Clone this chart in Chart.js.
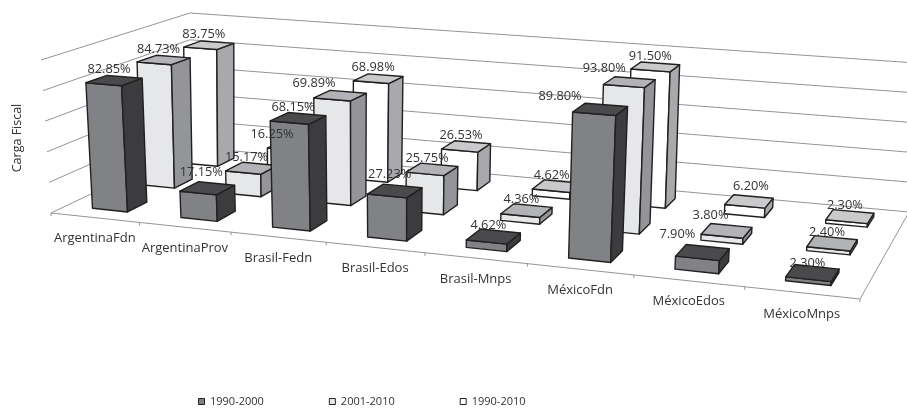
<!DOCTYPE html>
<html><head><meta charset="utf-8">
<style>html,body{margin:0;padding:0;background:#fff}canvas{display:block;filter:blur(0.4px)}</style>
<script src="https://cdn.jsdelivr.net/npm/chart.js@4"></script>
</head><body><canvas id="c" width="907" height="409"></canvas>
<script>
const categories = ['ArgentinaFdn','ArgentinaProv','Brasil-Fedn','Brasil-Edos','Brasil-Mnps','MéxicoFdn','MéxicoEdos','MéxicoMnps'];
const seriesNames = ['1990-2000','2001-2010','1990-2010'];
const values1 = [82.85,17.15,68.15,27.23,4.62,89.80,7.90,2.30];
const values2 = [84.73,15.17,69.89,25.75,4.36,93.80,3.80,2.40];
const values3 = [83.75,16.25,68.98,26.53,4.62,91.50,6.20,2.30];
const axisTitle = 'Carga Fiscal';

const F = 'Open Sans';
const faces = [
  {front:'#808285',side:'#3c3c3e',top:'#4a4a4c'},
  {front:'#e6e7e8',side:'#939598',top:'#b1b3b6'},
  {front:'#ffffff',side:'#a7a9ac',top:'#c9cacc'}
];
function quad(p){
  const [a,b,c,d]=p, dx1=b[0]-c[0],dx2=d[0]-c[0],sx=a[0]-b[0]+c[0]-d[0],
        dy1=b[1]-c[1],dy2=d[1]-c[1],sy=a[1]-b[1]+c[1]-d[1],
        den=dx1*dy2-dx2*dy1, g=(sx*dy2-dx2*sy)/den, h=(dx1*sy-sx*dy1)/den,
        A=b[0]-a[0]+g*b[0],B=d[0]-a[0]+h*d[0],D=b[1]-a[1]+g*b[1],E=d[1]-a[1]+h*d[1];
  return (u,z)=>{const w=g*u+h*z+1;return [(A*u+B*z+a[0])/w,(D*u+E*z+a[1])/w];};
}
const floorH = quad([[51,213],[860,299],[909,212],[190,147]]);
const topH   = quad([[41,60],[874,127],[916,63],[190,13]]);
function P(u,z,v){const f=floorH(u,z),t=topH(u,z);return [f[0]+(t[0]-f[0])*v,f[1]+(t[1]-f[1])*v];}

function poly(ctx,pts,fill,stroke){ctx.beginPath();pts.forEach((p,i)=>i?ctx.lineTo(p[0],p[1]):ctx.moveTo(p[0],p[1]));ctx.closePath();
  if(fill){ctx.fillStyle=fill;ctx.fill();} if(stroke){ctx.strokeStyle=stroke;ctx.stroke();}}
function seg(ctx,a,b){ctx.beginPath();ctx.moveTo(a[0],a[1]);ctx.lineTo(b[0],b[1]);ctx.stroke();}

const labelNudge = {'0,1':[-1,-5],'0,3':[0,-6],'0,5':[-35,-2],'0,6':[-20,-7],'0,7':[0,1],'1,2':[-21,-1],'1,5':[-20,-3],'1,6':[-11,-4],'2,1':[-15,0],'2,6':[7,-4]};

const plot3d = {
  id:'plot3d',
  beforeDatasetDraw(){return false;},
  afterLayout(chart){chart.legend.top+=8;chart.legend.bottom+=8;chart.legend.left-=2;},
  afterDraw(chart){
    const ctx=chart.ctx, a=chart.chartArea, x=chart.scales.x, y=chart.scales.y;
    const nv=v=>(a.bottom-y.getPixelForValue(v))/a.height;
    const catW=a.width/categories.length;
    ctx.save();
    ctx.lineWidth=1; ctx.strokeStyle='#939496';
    y.ticks.forEach(t=>{const v=nv(t.value);seg(ctx,P(0,0,v),P(0,1,v));seg(ctx,P(0,1,v),P(1,1,v));});
    seg(ctx,P(0,0,0),P(1,0,0)); seg(ctx,P(1,0,0),P(1,1,0));
    for(let i=0;i<=categories.length;i++){
      const u=(x.getPixelForValue(0)-catW/2+i*catW-a.left)/a.width, p=P(u,0,0); seg(ctx,p,[p[0],p[1]+3]);
    }
    const n=chart.data.datasets.length, depth=0.4/n;
    const labels=[];
    for(let s=n-1;s>=0;s--){
      const meta=chart.getDatasetMeta(s), z0=(s+0.3)/n, z1=z0+depth, c=faces[s];
      meta.data.forEach((el,j)=>{
        const u0=(el.x-el.width/2-a.left)/a.width,u1=(el.x+el.width/2-a.left)/a.width,v=(a.bottom-el.y)/a.height;
        const fl=P(u0,z0,0),fr=P(u1,z0,0),br=P(u1,z1,0),tfl=P(u0,z0,v),tfr=P(u1,z0,v),tbr=P(u1,z1,v),tbl=P(u0,z1,v);
        ctx.lineJoin='round'; ctx.lineWidth=1.4; const k='#231f20';
        poly(ctx,[fl,fr,tfr,tfl],c.front,k);
        poly(ctx,[fr,br,tbr,tfr],c.side,k);
        poly(ctx,[tfl,tfr,tbr,tbl],c.top,k);
        const cx=(tfl[0]+tbr[0])/2, cy=(tfl[1]+tbr[1])/2, nd=labelNudge[s+','+j]||[0,0];
        labels.push([chart.data.datasets[s].data[j].toFixed(2)+'%',cx-5+nd[0],cy-11+nd[1]]);
      });
    }
    ctx.font='12.8px "'+F+'"'; ctx.fillStyle='#333'; ctx.textAlign='center'; ctx.textBaseline='middle';
    labels.forEach(l=>ctx.fillText(l[0],l[1],l[2]));
    ctx.font='13px "'+F+'"';
    categories.forEach((c,j)=>{const p=P((j+0.5)/categories.length,0,0);ctx.fillText(c,p[0],p[1]+21);});
    ctx.font='12.5px "'+F+'"';
    ctx.translate(17,138);ctx.rotate(-Math.PI/2);ctx.fillText(axisTitle,0,0);
    ctx.restore();
  }
};

new Chart(document.getElementById('c'),{
  type:'bar',
  data:{labels:categories,datasets:[values1,values2,values3].map((d,i)=>({
    label:seriesNames[i],data:d,backgroundColor:faces[i].front,borderColor:'#231f20',borderWidth:1,
    grouped:false,categoryPercentage:1,barPercentage:0.4}))},
  options:{
    responsive:false,animation:false,
    layout:{padding:{left:135,right:10,top:10,bottom:0}},
    scales:{x:{display:false},y:{display:false,min:0,max:100,ticks:{stepSize:20}}},
    plugins:{tooltip:{enabled:false},legend:{position:'bottom',align:'start',
      labels:{boxWidth:6,boxHeight:6,padding:65.5,color:'#333',font:{family:F,size:11}}}}
  },
  plugins:[plot3d]
});
</script>
</body></html>
